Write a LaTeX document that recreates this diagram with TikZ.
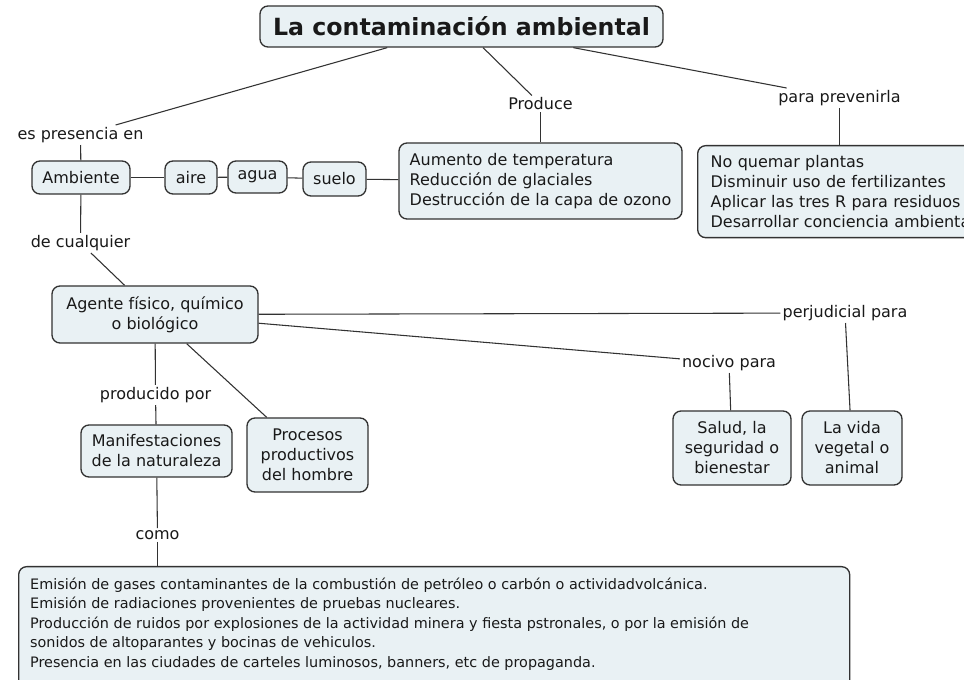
\documentclass[tikz,border=0pt]{standalone}
\usepackage{fontspec}
\setmainfont{DejaVu Sans}
\newcommand\pxu{0.75pt}
\definecolor{boxfill}{RGB}{233,241,244}
\definecolor{edge}{RGB}{50,50,50}
\definecolor{txt}{RGB}{25,25,25}
\begin{document}
\begin{tikzpicture}[x=0.75pt,y=-0.75pt,
  box/.style={draw=edge, fill=boxfill, rounded corners=6pt, line width=1pt, text=txt,
    font=\fontsize{12pt}{15pt}\selectfont, align=center, inner sep=0pt},
  lbl/.style={fill=white, text=txt, font=\fontsize{12pt}{15pt}\selectfont, inner sep=1.5pt},
  conn/.style={draw=edge, line width=0.8pt}]
\useasboundingbox (0,0) rectangle (964,680);
\clip (0,0) rectangle (964,680);
\fill[white] (0,0) rectangle (964,680);

\node[box, minimum width=403*\pxu, minimum height=41*\pxu,
  font=\fontsize{17.75pt}{20pt}\selectfont\bfseries] (title) at (461.5,26.5) {La contaminación ambiental};
\node[lbl] (presencia) at (80.5,135) {es presencia en};
\node[box, minimum width=98*\pxu, minimum height=33*\pxu] (ambiente) at (81,177.5) {Ambiente};
\node[box, minimum width=52*\pxu, minimum height=33*\pxu] (aire) at (191,177.5) {aire};
\node[box, minimum width=59*\pxu, minimum height=32*\pxu] (agua) at (257.5,177) {agua};
\node[box, minimum width=63*\pxu, minimum height=34*\pxu] (suelo) at (334.5,179) {suelo};
\node[box, minimum width=283*\pxu, minimum height=76*\pxu, align=left] (efectos) at (540.5,181)
  {Aumento de temperatura\\Reducción de glaciales\\Destrucción de la capa de ozono};
\node[lbl] (produce) at (540.5,104) {Produce};
\node[lbl] (prevenir) at (839.5,98) {para prevenirla};
\node[box, anchor=north west, minimum height=92*\pxu, text width=310*\pxu, inner xsep=13*\pxu, align=left] (prev) at (697,145)
  {No quemar plantas\\Disminuir uso de fertilizantes\\Aplicar las tres R para residuos\\Desarrollar conciencia ambiental};
\node[lbl] (cualquier) at (80.5,243) {de cualquier};
\node[box, minimum width=206*\pxu, minimum height=57*\pxu] (agente) at (155,314.5) {Agente físico, químico\\o biológico};
\node[lbl] (producido) at (155.5,395) {producido por};
\node[box, minimum width=151*\pxu, minimum height=52*\pxu] (manif) at (156.5,451) {Manifestaciones\\de la naturaleza};
\node[box, minimum width=121*\pxu, minimum height=74*\pxu] (procesos) at (307.5,455) {Procesos\\productivos\\del hombre};
\node[lbl] (nocivo) at (729,363) {nocivo para};
\node[lbl] (perjudicial) at (845,313) {perjudicial para};
\node[box, minimum width=118*\pxu, minimum height=74*\pxu] (salud) at (732,448) {Salud, la\\seguridad o\\bienestar};
\node[box, minimum width=100*\pxu, minimum height=74*\pxu] (vida) at (852,448) {La vida\\vegetal o\\animal};
\node[lbl] (como) at (157.5,535) {como};
\node[box, anchor=north west, inner xsep=11.5*\pxu, inner ysep=11*\pxu, align=left,
  font=\fontsize{10.8pt}{14.6pt}\selectfont] (emision) at (18,566)
  {\begin{minipage}[t][97.5pt][t]{606pt}\raggedright
  Emisión de gases contaminantes de la combustión de petróleo o carbón o actividadvolcánica.\\
  Emisión de radiaciones provenientes de pruebas nucleares.\\
  Producción de ruidos por explosiones de la actividad minera y fiesta pstronales, o por la emisión de\\
  sonidos de altoparantes y bocinas de vehiculos.\\
  Presencia en las ciudades de carteles luminosos, banners, etc de propaganda.
  \end{minipage}};

\draw[conn] (title) -- (presencia);
\draw[conn] (presencia) -- (ambiente);
\draw[conn] (ambiente) -- (aire);
\draw[conn] (aire) -- (agua);
\draw[conn] (agua) -- (suelo);
\draw[conn] (suelo) -- (efectos);
\draw[conn] (title) -- (produce);
\draw[conn] (produce) -- (efectos);
\draw[conn] (title) -- (prevenir);
\draw[conn] (prevenir) -- (prevenir |- prev.north);
\draw[conn] (ambiente) -- (cualquier);
\draw[conn] (cualquier) -- (agente);
\draw[conn] (agente) -- (perjudicial);
\draw[conn] (agente) -- (nocivo);
\draw[conn] (nocivo) -- (salud);
\draw[conn] (perjudicial) -- (vida);
\draw[conn] (agente) -- (producido);
\draw[conn] (producido) -- (manif);
\draw[conn] (agente) -- (procesos);
\draw[conn] (manif) -- (como);
\draw[conn] (como) -- (como |- emision.north);
\end{tikzpicture}
\end{document}
